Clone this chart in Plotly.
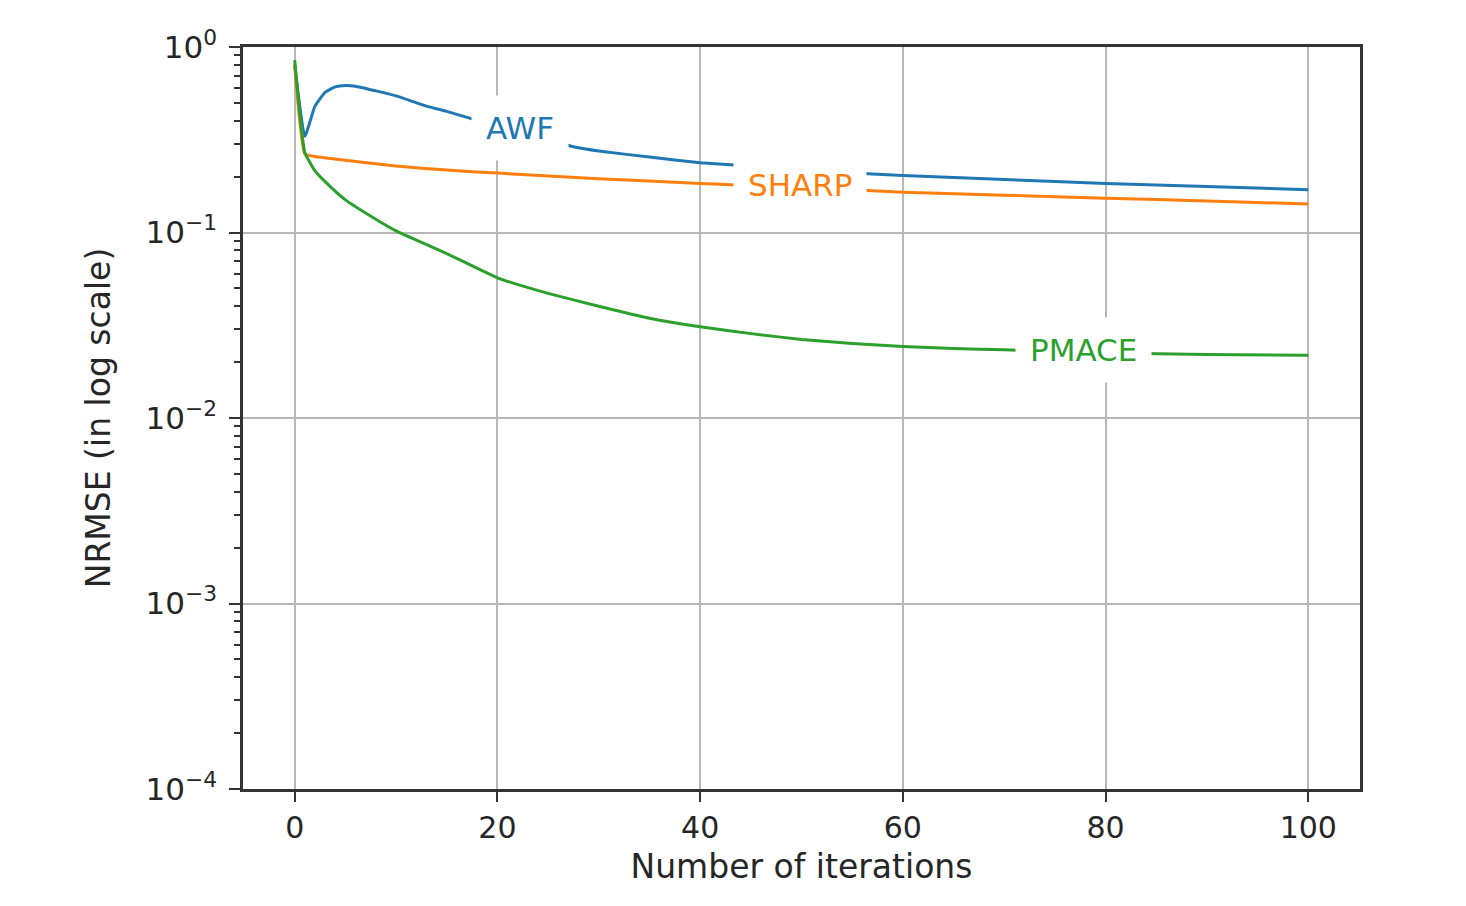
import math
import plotly.graph_objects as go

# Iteration numbers at which values were read
awf_x = [0, 1, 2, 3, 4, 5, 6, 8, 10, 13, 15, 17.5, 20, 25, 27.5, 30, 35, 40, 43, 45, 50, 57, 60, 70, 80, 90, 100]
awf_y = [0.80, 0.33, 0.48, 0.57, 0.61, 0.62, 0.615, 0.58, 0.545, 0.48, 0.45, 0.41, 0.375, 0.315, 0.29,
         0.275, 0.255, 0.238, 0.232, 0.227, 0.217, 0.207, 0.203, 0.193, 0.184, 0.177, 0.170]

sharp_x = [0, 1, 2, 5, 10, 15, 20, 30, 40, 43, 50, 57, 60, 70, 80, 90, 100]
sharp_y = [0.80, 0.265, 0.257, 0.245, 0.228, 0.217, 0.209, 0.195, 0.184, 0.181, 0.175, 0.168,
           0.165, 0.159, 0.153, 0.148, 0.1425]

pmace_x = [0, 1, 2, 3, 5, 8, 10, 12, 15, 20, 25, 30, 35, 40, 45, 50, 55, 60, 65, 70, 80, 90, 100]
pmace_y = [0.85, 0.27, 0.215, 0.188, 0.150, 0.118, 0.102, 0.091, 0.077, 0.057, 0.047, 0.040, 0.0345,
           0.031, 0.0285, 0.0265, 0.0252, 0.0243, 0.0237, 0.0233, 0.0225, 0.022, 0.0218]

series_names = ["AWF", "SHARP", "PMACE"]
series_colors = ["#1f77b4", "#ff7f0e", "#2ca02c"]
# inline label anchor positions (data coordinates)
label_x = [22.2, 49.9, 77.8]
label_y = [0.366, 0.180, 0.0233]

y_tick_vals = [1e-4, 1e-3, 1e-2, 1e-1, 1]
y_tick_text = ["10<sup>−4</sup>", "10<sup>−3</sup>", "10<sup>−2</sup>", "10<sup>−1</sup>", "10<sup>0</sup>"]
x_tick_vals = [0, 20, 40, 60, 80, 100]

FONT = "DejaVu Sans"
TXT = "#262626"

fig = go.Figure()
for xs, ys, name, col in zip([awf_x, sharp_x, pmace_x], [awf_y, sharp_y, pmace_y], series_names, series_colors):
    fig.add_trace(go.Scatter(x=xs, y=ys, mode="lines", name=name,
                             line=dict(color=col, width=3, shape="spline", smoothing=0.4),
                             showlegend=False))

for name, col, lx, ly in zip(series_names, series_colors, label_x, label_y):
    fig.add_annotation(x=lx, y=math.log10(ly), xref="x", yref="y", text=name, showarrow=False,
                       font=dict(family=FONT, size=31, color=col),
                       bgcolor="white", borderpad=14)

minor_vals = [m * 10 ** e for e in range(-4, 0) for m in range(2, 10)]

fig.update_layout(
    width=1450, height=890,
    paper_bgcolor="white", plot_bgcolor="white",
    margin=dict(l=235, r=98, t=39, b=109),
    font=dict(family=FONT, size=33, color=TXT),
    xaxis=dict(
        range=[-5.1, 105.1], tickvals=x_tick_vals, ticks="outside", ticklen=10, tickwidth=2,
        tickcolor="#333", showgrid=True, gridcolor="#b8b8b8", gridwidth=2,
        showline=True, linecolor="#333", linewidth=2.5, mirror=True, zeroline=False,
        title=dict(text="Number of iterations", standoff=12, font=dict(size=33)),
        tickfont=dict(size=30),
    ),
    yaxis=dict(
        type="log", range=[-4, 0], tickvals=y_tick_vals, ticktext=y_tick_text,
        ticks="outside", ticklen=11, tickwidth=2, tickcolor="#333",
        showgrid=True, gridcolor="#b8b8b8", gridwidth=2,
        showline=True, linecolor="#333", linewidth=2.5, mirror=True, zeroline=False,
        minor=dict(tickvals=minor_vals, ticks="outside", ticklen=6, tickwidth=1.5,
                   tickcolor="#333", showgrid=False),
        title=dict(text="NRMSE (in log scale)", standoff=26, font=dict(size=33)),
        tickfont=dict(size=31), ticklabelstandoff=6,
    ),
)

fig.write_html("out.html")
